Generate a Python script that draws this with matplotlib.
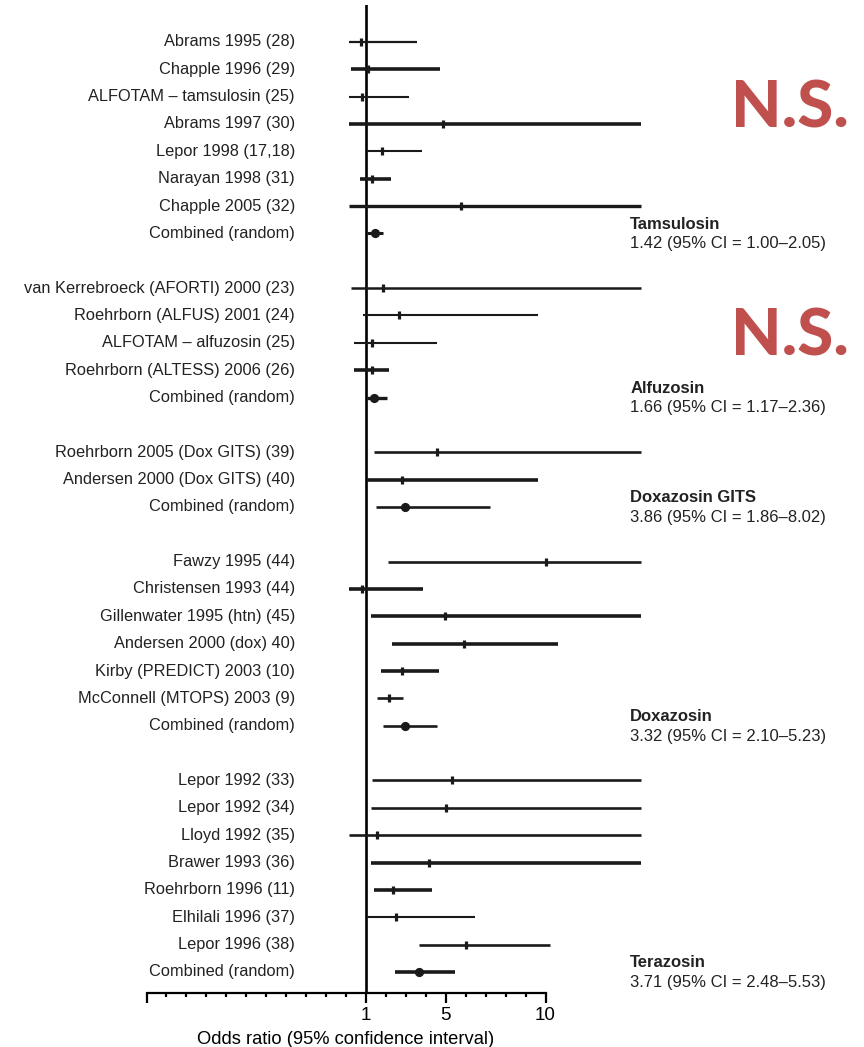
import matplotlib.pyplot as plt

plt.rcParams['font.family'] = ['Liberation Sans', 'DejaVu Sans']

# Dados (eixo linear em unidades de odds ratio)
estudos = [
    'Abrams 1995 (28)', 'Chapple 1996 (29)', 'ALFOTAM \u2013 tamsulosin (25)',
    'Abrams 1997 (30)', 'Lepor 1998 (17,18)', 'Narayan 1998 (31)',
    'Chapple 2005 (32)', 'Combined (random)',
    '',
    'van Kerrebroeck (AFORTI) 2000 (23)', 'Roehrborn (ALFUS) 2001 (24)',
    'ALFOTAM \u2013 alfuzosin (25)', 'Roehrborn (ALTESS) 2006 (26)', 'Combined (random)',
    '',
    'Roehrborn 2005 (Dox GITS) (39)', 'Andersen 2000 (Dox GITS) (40)', 'Combined (random)',
    '',
    'Fawzy 1995 (44)', 'Christensen 1993 (44)', 'Gillenwater 1995 (htn) (45)',
    'Andersen 2000 (dox) 40)', 'Kirby (PREDICT) 2003 (10)', 'McConnell (MTOPS) 2003 (9)',
    'Combined (random)',
    '',
    'Lepor 1992 (33)', 'Lepor 1992 (34)', 'Lloyd 1992 (35)', 'Brawer 1993 (36)',
    'Roehrborn 1996 (11)', 'Elhilali 1996 (37)', 'Lepor 1996 (38)', 'Combined (random)',
]

odds = [0.73, 1.10, 0.78, 4.85, 1.80, 1.32, 5.77, 1.45,
        None,
        1.84, 2.67, 1.28, 1.28, 1.42,
        None,
        4.55, 2.82, 2.96,
        None,
        10.05, 0.78, 4.94, 5.89, 2.82, 2.17, 2.96,
        None,
        5.30, 5.00, 1.57, 4.18, 2.37, 2.49, 6.03, 3.68]

ic_inf = [0.16, 0.23, 0.16, 0.16, 1.04, 0.70, 0.16, 1.04,
          None,
          0.25, 0.86, 0.40, 0.40, 1.03,
          None,
          1.42, 1.03, 1.50,
          None,
          2.12, 0.15, 1.23, 2.32, 1.75, 1.57, 1.87,
          None,
          1.28, 1.23, 0.15, 1.25, 1.42, 1.03, 3.68, 2.46]

ic_sup = [3.58, 4.72, 3.16, 14.8, 3.80, 2.26, 14.8, 1.84,
          None,
          14.8, 9.61, 4.58, 2.17, 2.07,
          None,
          14.8, 9.61, 7.23,
          None,
          14.8, 3.85, 14.8, 10.61, 4.67, 2.84, 4.58,
          None,
          14.8, 14.8, 14.8, 14.8, 4.33, 6.48, 10.25, 5.47]

grupos = ['Tamsulosin', 'Alfuzosin', 'Doxazosin GITS', 'Doxazosin', 'Terazosin']
resumos = ['1.42 (95% CI = 1.00\u20132.05)', '1.66 (95% CI = 1.17\u20132.36)',
           '3.86 (95% CI = 1.86\u20138.02)', '3.32 (95% CI = 2.10\u20135.23)',
           '3.71 (95% CI = 2.48\u20135.53)']
linha_grupo = [7, 13, 17, 25, 34]
linha_ns = [2.45, 10.8]

# espessura das linhas (estilo)
espessura = [1.6, 2.6, 1.5, 2.6, 1.5, 2.6, 2.4, 2.2,
             0,
             1.8, 1.5, 1.5, 2.6, 2.4,
             0,
             1.9, 2.6, 1.9,
             0,
             1.9, 2.6, 2.6, 2.6, 2.6, 1.9, 1.9,
             0,
             1.9, 1.9, 1.9, 2.6, 2.6, 1.5, 1.9, 2.6]

fig = plt.figure(figsize=(8.64, 10.47), dpi=100)
ax = fig.add_axes([146.5 / 864, 54 / 1047, 1 - 146.5 / 864, (993 - 5) / 1047])
ax.set_xlim(-10, 10 + (864 - 545.5) / 19.95)
ax.set_ylim(34.77, -1.35)

ax.axvline(1, color='black', lw=1.9, zorder=1)

for i, nome in enumerate(estudos):
    if odds[i] is None:
        continue
    ax.plot([ic_inf[i], ic_sup[i]], [i, i], color='#1a1a1a', lw=espessura[i],
            solid_capstyle='butt', zorder=2)
    if nome.startswith('Combined'):
        ax.plot(odds[i], i, 'o', color='#1a1a1a', ms=5.6, zorder=3)
    else:
        ax.plot(odds[i], i, '|', color='#1a1a1a', ms=5.8, mew=2.3, zorder=3)
    ax.text(-2.56, i, nome, ha='right', va='center', fontsize=11.8, color='#222222')

for g, r, y in zip(grupos, resumos, linha_grupo):
    ax.text(14.25, y - 0.33, g, ha='left', va='center', fontsize=12, fontweight='bold',
            color='#222222')
    ax.text(14.25, y + 0.38, r, ha='left', va='center', fontsize=12, color='#222222')

for y in linha_ns:
    ax.text(19.3, y, 'N.S.', ha='left', va='center', fontsize=47, fontweight='black',
            color='#C0504D', family=['Lato', 'DejaVu Sans'])

# eixo x
for lado in ['top', 'right', 'left']:
    ax.spines[lado].set_visible(False)
ax.spines['bottom'].set_bounds(-10, 10)
ax.spines['bottom'].set_linewidth(1.6)
ax.set_yticks([])
ax.set_xticks([-10, 1, 5, 10])
ax.set_xticklabels(['', '1', '5', '10'], fontsize=13.5)
ax.set_xticks([v for v in range(-9, 10) if v not in (1, 5)], minor=True)
ax.tick_params(axis='x', which='major', length=7, width=1.6, pad=3)
ax.tick_params(axis='x', which='minor', length=3, width=1.6)
ax.set_xlabel('Odds ratio (95% confidence interval)', fontsize=13.2, labelpad=2)
ax.xaxis.set_label_coords((0 - ax.get_xlim()[0]) / (ax.get_xlim()[1] - ax.get_xlim()[0]), -0.038)

fig.savefig('out.png', dpi=100)
